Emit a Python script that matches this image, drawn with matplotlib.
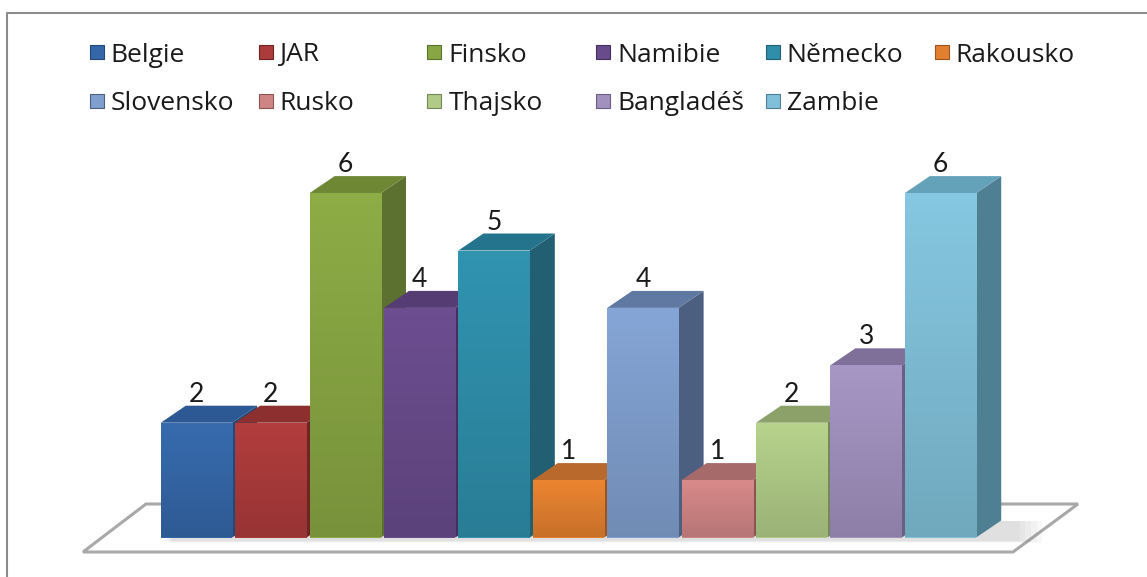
import matplotlib
matplotlib.use("Agg")
import matplotlib.pyplot as plt
import numpy as np
from matplotlib.patches import Polygon, Rectangle
from matplotlib.colors import to_rgb

categories = ["Belgie", "JAR", "Finsko", "Namibie", "Německo", "Rakousko",
              "Slovensko", "Rusko", "Thajsko", "Bangladéš", "Zambie"]
values = [2, 2, 6, 4, 5, 1, 4, 1, 2, 3, 6]
front_colors = ["#3567A8", "#AC3B3B", "#88A643", "#684B8B", "#2F8EAA", "#E3802F",
                "#809FCE", "#D08585", "#B0CB87", "#A091BE", "#80C0D8"]
top_colors = ["#2C5993", "#8E2F2F", "#6E8735", "#553C73", "#25748D", "#B9692C",
              "#6079A3", "#A76A6A", "#8CA06A", "#7E7099", "#64A2BA"]
side_colors = ["#234776", "#6F2424", "#5C7030", "#43305C", "#235F72", "#9A5422",
               "#4D5F80", "#8A5454", "#76875A", "#6A5E82", "#4F7F93"]

W, H = 1147, 577
fig = plt.figure(figsize=(W / 100, H / 100), dpi=100)
ax = fig.add_axes([0, 0, 1, 1])

# pixel -> data mapping (layout)
x0_px, step_px = 196.5, 74.4
y0_px, unit_px = 537.5, 57.4

def px(xp, yp):
    return ((xp - x0_px) / step_px, (y0_px - yp) / unit_px)

ax.axis("off")

# border (top and left)
ax.plot([px(7, 0)[0], px(7, 0)[0], px(1200, 0)[0]],
        [px(0, 600)[1], px(0, 13)[1], px(0, 13)[1]],
        color="#8C8C8C", lw=1.5, clip_on=False)

# floor
floor = Polygon([px(83, 552), px(1013, 552), px(1078, 504), px(146, 504)],
                closed=True, facecolor="white", edgecolor="#A8A8A8", lw=2.2, zorder=1)
ax.add_patch(floor)

n = len(categories)
xs = np.arange(n)
w = 0.96
dx, dy = 25 / step_px, 17 / unit_px

# soft shadow on floor
for k in range(5):
    off = k * 0.025
    sh = Polygon([(-0.5 + 0.05 + off, -0.06 - off * 0.3), (n - 1 + w / 2 + dx + 0.25 + off * 3, -0.06 - off * 0.3),
                  (n - 1 + w / 2 + dx + 0.25 + off * 3, dy), (-0.5 + dx, dy)],
                 closed=True, facecolor="#707070", edgecolor="none", alpha=0.045, zorder=2)
    ax.add_patch(sh)

bars = ax.bar(xs, values, width=w, color=front_colors, edgecolor="none", zorder=10)

z = 10
for i, (x, v, b) in enumerate(zip(xs, values, bars)):
    l, r = x - w / 2, x + w / 2
    side = Polygon([(r, 0), (r + dx, dy), (r + dx, v + dy), (r, v)], closed=True,
                   facecolor=side_colors[i], edgecolor="none", zorder=z + 3 * i)
    top = Polygon([(l, v), (r, v), (r + dx, v + dy), (l + dx, v + dy)], closed=True,
                  facecolor=top_colors[i], edgecolor="none", zorder=z + 3 * i + 1)
    ax.add_patch(side)
    ax.add_patch(top)
    b.set_zorder(z + 3 * i + 2)
    # vertical gradient on front face
    c = np.array(to_rgb(front_colors[i]))
    t = np.linspace(0, 1, 64)[:, None]
    grad = c[None, :] * (1.04 - 0.16 * t)
    grad = np.clip(grad, 0, 1)[:, None, :]
    im = ax.imshow(grad, extent=(l, r, 0, v), origin="upper", aspect="auto",
                   zorder=z + 3 * i + 2.5, interpolation="bilinear")
    im.set_clip_path(b)
    ax.text(x, v + dy - 0.02, str(v), ha="center", va="bottom", fontsize=19,
            family="Lato", color="#1A1A1A", zorder=100)

ax.set_xlim((0 - x0_px) / step_px, (W - x0_px) / step_px)
ax.set_ylim(-(H - y0_px) / unit_px, y0_px / unit_px)

# legend (manual, uniform columns)
col_x = 89.5
col_step = 169.0
row_y = [52, 101]
for i, cat in enumerate(categories):
    r, cidx = divmod(i, 6)
    sx = col_x + cidx * col_step
    sy = row_y[r]
    sq = Rectangle((sx / W, 1 - (sy + 7) / H), 14 / W, 14 / H, transform=fig.transFigure,
                   facecolor=front_colors[i], edgecolor=side_colors[i], lw=0.8)
    fig.patches.append(sq)
    fig.text((sx + 21) / W, 1 - sy / H, cat, ha="left", va="center_baseline",
             fontsize=19, family="Open Sans", color="#1A1A1A")

fig.savefig("out.png", dpi=100)
